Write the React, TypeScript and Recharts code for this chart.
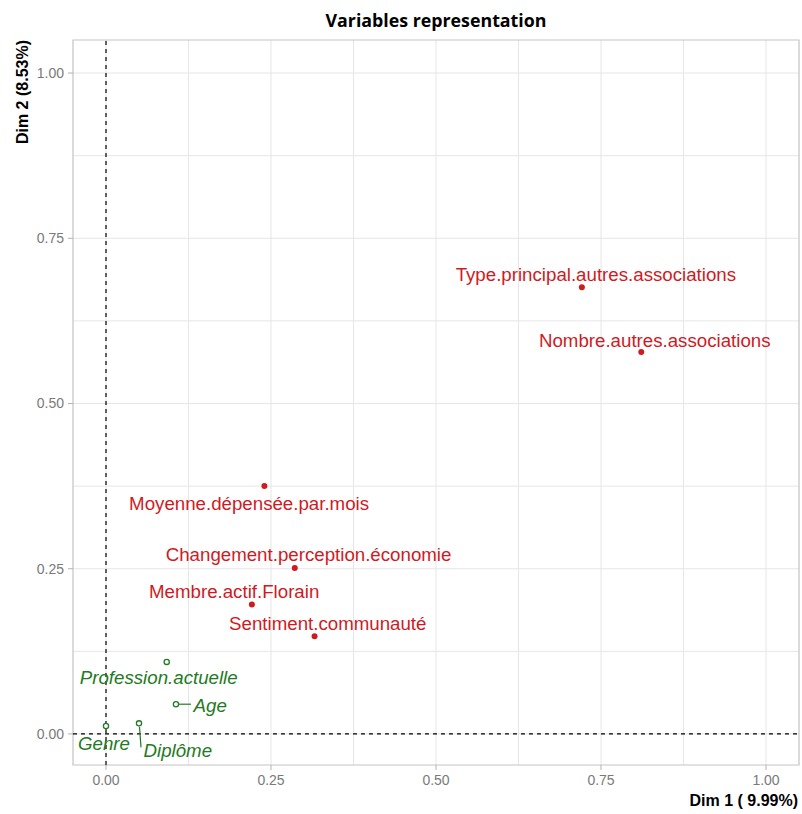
import React from "react";
import {
  ScatterChart,
  Scatter,
  XAxis,
  YAxis,
  CartesianGrid,
  ReferenceLine,
  ReferenceArea,
} from "recharts";

// active variables (red)
const activeNames = [
  "Type.principal.autres.associations",
  "Nombre.autres.associations",
  "Moyenne.dépensée.par.mois",
  "Changement.perception.économie",
  "Membre.actif.Florain",
  "Sentiment.communauté",
];
const activeDim1 = [0.721, 0.811, 0.24, 0.286, 0.221, 0.316];
const activeDim2 = [0.676, 0.578, 0.375, 0.251, 0.196, 0.148];

// supplementary variables (green)
const suppNames = ["Profession.actuelle", "Age", "Genre", "Diplôme"];
const suppDim1 = [0.092, 0.106, 0.0, 0.05];
const suppDim2 = [0.109, 0.045, 0.012, 0.016];

const axisTicks = [0, 0.25, 0.5, 0.75, 1];
const gridValues = [0, 0.125, 0.25, 0.375, 0.5, 0.625, 0.75, 0.875, 1];

const X_DOMAIN: [number, number] = [-0.05, 1.05];
const Y_DOMAIN: [number, number] = [-0.047, 1.05];

const RED = "#cf1a1f";
const GREEN = "#237a23";
const FONT = "'Liberation Sans', Arial, sans-serif";

// repel-style label placement, in pixels relative to the point
type Placement = { dx: number; dy: number; anchor?: "start" | "middle" | "end"; seg?: [number, number, number, number] };
const placement: Record<string, Placement> = {
  "Type.principal.autres.associations": { dx: 14, dy: -6 },
  "Nombre.autres.associations": { dx: 13.5, dy: -4.5 },
  "Moyenne.dépensée.par.mois": { dx: -15.3, dy: 24 },
  "Changement.perception.économie": { dx: 13.8, dy: -6.6 },
  "Membre.actif.Florain": { dx: -17.7, dy: -6 },
  "Sentiment.communauté": { dx: 13.2, dy: -6 },
  "Profession.actuelle": { dx: -8, dy: 22 },
  Age: { dx: 17.6, dy: 7.5, anchor: "start", seg: [3, 0, 15, 0] },
  Genre: { dx: -2, dy: 24 },
  "Diplôme": { dx: 38.8, dy: 34, seg: [0.5, 3.5, 2, 24] },
};

const activeData = activeNames.map((name, i) => ({ name, x: activeDim1[i], y: activeDim2[i] }));
const suppData = suppNames.map((name, i) => ({ name, x: suppDim1[i], y: suppDim2[i] }));

function makeShape(color: string, supp: boolean) {
  return (props: any) => {
    const { cx, cy, payload } = props;
    const p = placement[payload.name] || { dx: 0, dy: -8 };
    return (
      <g>
        {p.seg && (
          <line
            x1={cx + p.seg[0]}
            y1={cy + p.seg[1]}
            x2={cx + p.seg[2]}
            y2={cy + p.seg[3]}
            stroke={color}
            strokeWidth={1.2}
          />
        )}
        {supp ? (
          <circle cx={cx} cy={cy} r={2.6} fill="#fff" stroke={color} strokeWidth={1.3} />
        ) : (
          <circle cx={cx} cy={cy} r={3} fill={color} />
        )}
        <text
          x={cx + p.dx}
          y={cy + p.dy}
          textAnchor={p.anchor || "middle"}
          fill={color}
          fontSize={18.7}
          fontStyle={supp ? "italic" : "normal"}
          fontFamily={FONT}
        >
          {payload.name}
        </text>
      </g>
    );
  };
}

export default function App() {
  return (
    <div style={{ position: "absolute", left: 0, top: 0, background: "#fff" }}>
      <ScatterChart width={802} height={814} margin={{ top: 40, right: 3, bottom: 19, left: 0 }}>
        <CartesianGrid
          stroke="#e6e6e6"
          strokeWidth={1}
          verticalValues={gridValues}
          horizontalValues={gridValues}
        />
        <XAxis
          type="number"
          dataKey="x"
          domain={X_DOMAIN}
          allowDataOverflow
          ticks={axisTicks}
          tickFormatter={(v: number) => v.toFixed(2)}
          height={30}
          axisLine={false}
          tickSize={5}
          tickMargin={5}
          tickLine={{ stroke: "#b3b3b3" }}
          tick={{ fill: "#7a7a7a", fontSize: 14, fontFamily: FONT }}
        />
        <YAxis
          type="number"
          dataKey="y"
          domain={Y_DOMAIN}
          allowDataOverflow
          ticks={axisTicks}
          tickFormatter={(v: number) => v.toFixed(2)}
          width={73}
          axisLine={false}
          tickSize={5}
          tickMargin={4}
          tickLine={{ stroke: "#b3b3b3" }}
          tick={{ fill: "#7a7a7a", fontSize: 14, fontFamily: FONT }}
        />
        <ReferenceArea
          x1={X_DOMAIN[0]}
          x2={X_DOMAIN[1]}
          y1={Y_DOMAIN[0]}
          y2={Y_DOMAIN[1]}
          fill="none"
          fillOpacity={0}
          stroke="#c4c4c4"
          strokeWidth={1.2}
          ifOverflow="visible"
        />
        <ReferenceLine x={0} stroke="#000" strokeDasharray="4 4" strokeWidth={1.2} />
        <ReferenceLine y={0} stroke="#000" strokeDasharray="4 4" strokeWidth={1.2} />
        <Scatter data={activeData} shape={makeShape(RED, false)} isAnimationActive={false} />
        <Scatter data={suppData} shape={makeShape(GREEN, true)} isAnimationActive={false} />
        <text x={436} y={27} textAnchor="middle" fontSize={17.8} fontWeight={700} fontFamily="'Open Sans', sans-serif" fill="#000">
          Variables representation
        </text>
        <text x={798} y={806} textAnchor="end" fontSize={16} fontWeight={700} fontFamily={FONT} fill="#000">
          Dim 1 ( 9.99%)
        </text>
        <text
          x={28}
          y={40}
          transform="rotate(-90 28 40)"
          textAnchor="end"
          fontSize={16}
          fontWeight={700}
          fontFamily={FONT}
          fill="#000"
        >
          Dim 2 (8.53%)
        </text>
      </ScatterChart>
    </div>
  );
}
